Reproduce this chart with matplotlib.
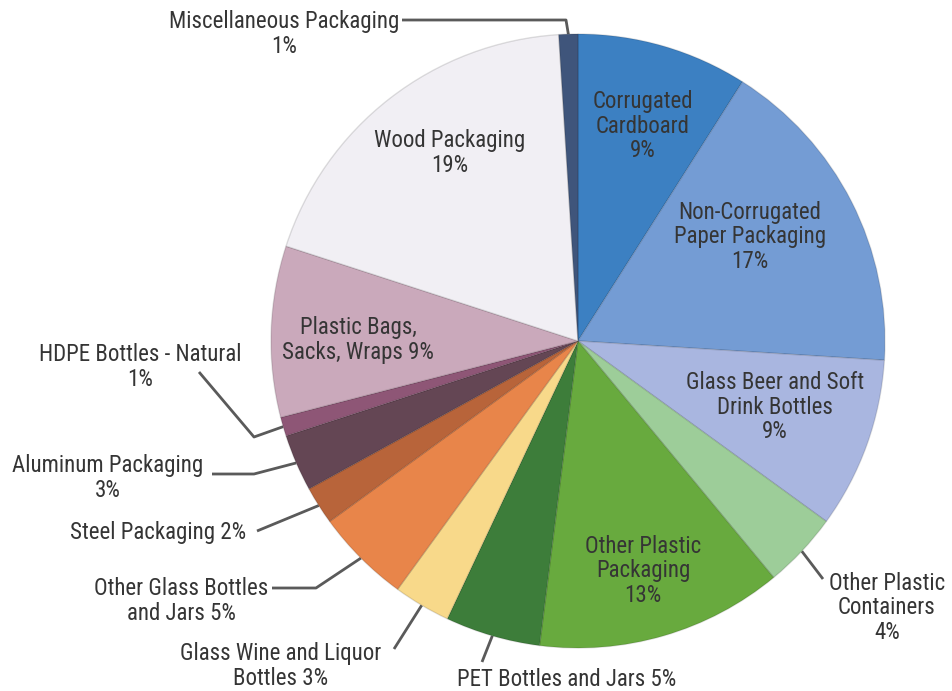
import numpy as np
import matplotlib
matplotlib.use("Agg")
import matplotlib.pyplot as plt
from matplotlib import font_manager

# Packaging waste composition, clockwise from 12 o'clock
categories = [
    "Corrugated\nCardboard", "Non-Corrugated\nPaper Packaging", "Glass Beer and Soft\nDrink Bottles",
    "Other Plastic\nContainers", "Other Plastic\nPackaging", "PET Bottles and Jars",
    "Glass Wine and Liquor\nBottles", "Other Glass Bottles\nand Jars", "Steel Packaging",
    "Aluminum Packaging", "HDPE Bottles - Natural", "Plastic Bags,\nSacks, Wraps",
    "Wood Packaging", "Miscellaneous Packaging",
]
shares = [9, 17, 9, 4, 13, 5, 3, 5, 2, 3, 1, 9, 19, 1]
colors = [
    "#3c80c2", "#749cd4", "#a9b6e0", "#9dcd99", "#68aa3e", "#3d7d3a", "#f8d98a",
    "#e8854a", "#b8643a", "#644654", "#8e5676", "#caa9bb", "#f1eff4", "#3f557b",
]
# whether the percentage follows the name on the same line
label_pct_inline = [False, False, False, False, False, True, True, True, True, False, False, True, False, False]
# label centres in figure pixels (x from left, y from top)
label_pos = [
    (643, 126), (750, 237), (775, 407), (887, 608), (643, 571), (567, 680),
    (281, 666), (181, 601), (158, 532), (108, 478), (140, 367), (358, 340),
    (450, 153), (284, 34),
]
# leader elbows (figure pixels); None means the label sits inside its slice
leader_elbows = [
    None, None, None, [(823, 579)], None, [(482, 662)],
    [(394, 649)], [(272, 588), (316, 588)], [(257, 531)], [(212, 474), (254, 474)],
    [(199, 372), (254, 437)], None, None, [(402, 20), (566, 20)],
]

W, H = 953, 691
fig = plt.figure(figsize=(W / 100, H / 100), dpi=100)
ax = fig.add_axes([0, 0, 1, 1])

avail = {f.name for f in font_manager.fontManager.ttflist}
fam = [f for f in ["Liberation Sans Narrow", "Roboto Condensed", "Liberation Sans"] if f in avail] + ["DejaVu Sans"]

cx, cy, r = 578, H - 341, 307
wedges, _ = ax.pie(shares, colors=colors, startangle=90, counterclock=False,
                   center=(cx, cy), radius=r, frame=True,
                   wedgeprops=dict(linewidth=1.0, edgecolor=(0, 0, 0, 0.12)))
ax.set_xlim(0, W)
ax.set_ylim(0, H)
ax.set_aspect("equal")
ax.axis("off")

text_color = "#353535"
for i, (name, pct) in enumerate(zip(categories, shares)):
    sep = " " if label_pct_inline[i] else "\n"
    txt = f"{name}{sep}{pct}%"
    x, y = label_pos[i]
    ax.text(x, H - y, txt, ha="center", va="center", fontsize=16.5,
            family=fam, color=text_color, linespacing=1.08)
    elbows = leader_elbows[i]
    if elbows is None:
        continue
    w = wedges[i]
    mid = np.deg2rad((w.theta1 + w.theta2) / 2)
    ax_, ay_ = cx + r * np.cos(mid), cy + r * np.sin(mid)
    xs = [p[0] for p in elbows] + [ax_]
    ys = [H - p[1] for p in elbows] + [ay_]
    ax.plot(xs, ys, color="#5a5a5a", lw=2, solid_capstyle="butt", zorder=0.5)

fig.savefig("out.png", dpi=100)
